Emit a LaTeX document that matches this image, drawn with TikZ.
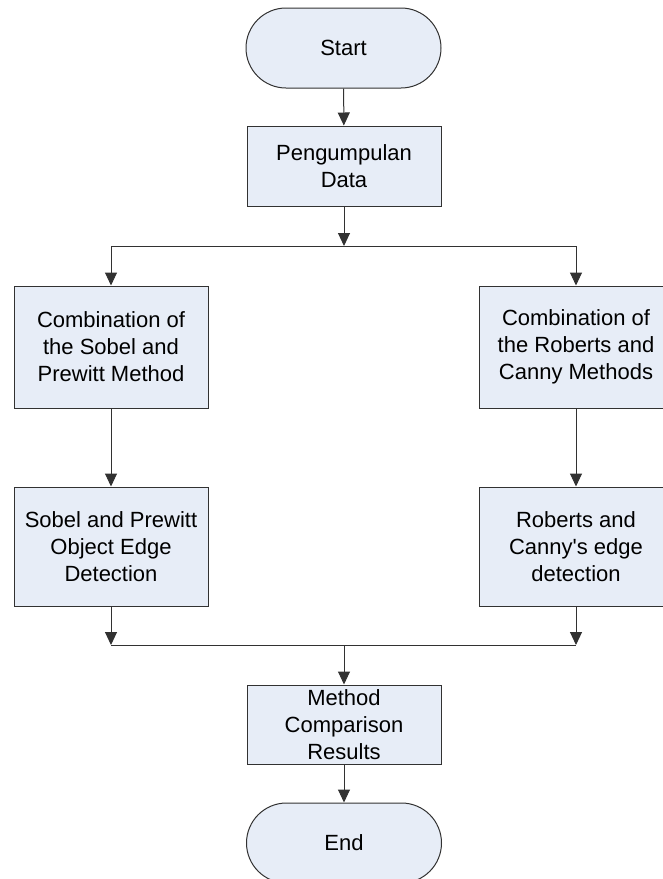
\documentclass[tikz,border=0pt]{standalone}
\usepackage{fontspec}
\setmainfont{Liberation Sans}[Ligatures=TeXOff]
\usetikzlibrary{arrows.meta}
\definecolor{boxfill}{RGB}{231,237,247}
\definecolor{linecol}{RGB}{50,50,50}
\tikzset{
  base/.style={draw=linecol, line width=1pt, fill=boxfill, inner sep=0pt, align=center,
    font=\fontsize{22}{27}\selectfont},
  procbox/.style={base, rectangle, minimum width=194pt},
  termbox/.style={base, rectangle, rounded corners=40pt, minimum width=195pt, minimum height=80pt},
  conn/.style={draw=linecol, line width=1pt},
  arr/.style={conn, -{Triangle[length=13pt,width=12pt]}},
}
\begin{document}
\begin{tikzpicture}[x=1pt,y=1pt]
\useasboundingbox (0,0) rectangle (662,-879);
\node[termbox] (start) at (343.5,-48) {Start};
\node[procbox, minimum height=80pt] (peng) at (344,-166) {Pengumpulan\\Data};
\node[procbox, minimum height=122pt] (l1) at (111,-347) {Combination of\\the Sobel and\\Prewitt Method};
\node[procbox, minimum height=122pt] (r1) at (576,-347) {Combination of\\the Roberts and\\Canny Methods};
\node[procbox, minimum height=119pt] (l2) at (111,-546.5) {Sobel and Prewitt\\Object Edge\\Detection};
\node[procbox, minimum height=119pt] (r2) at (576,-546.5) {Roberts and\\Canny's edge\\detection};
\node[procbox, minimum height=79pt] (meth) at (344,-724.5) {Method\\Comparison\\Results};
\node[termbox] (end) at (344,-843) {End};
\coordinate (j1) at (344,-246);
\coordinate (j2) at (344,-645);
\draw[arr] (start) -- (peng);
\draw[arr] (peng) -- (j1);
\draw[conn] (l1 |- j1) -- (r1 |- j1);
\draw[arr] (l1 |- j1) -- (l1);
\draw[arr] (r1 |- j1) -- (r1);
\draw[arr] (l1) -- (l2);
\draw[arr] (r1) -- (r2);
\draw[arr] (l2) -- (l2 |- j2);
\draw[arr] (r2) -- (r2 |- j2);
\draw[conn] (l2 |- j2) -- (r2 |- j2);
\draw[arr] (j2) -- (meth);
\draw[arr] (meth) -- (end);
\end{tikzpicture}
\end{document}
